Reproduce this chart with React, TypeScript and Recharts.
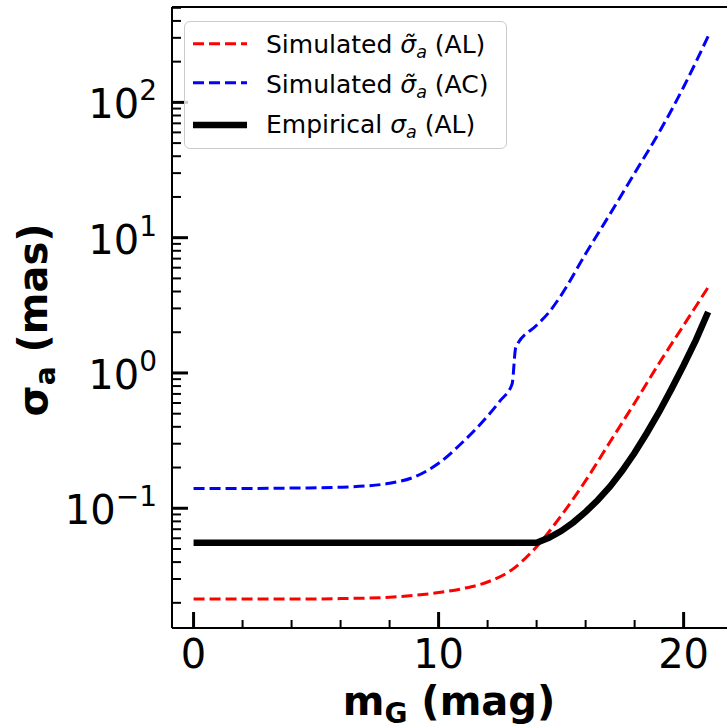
import React from 'react';
import { LineChart, Line, XAxis, YAxis, ReferenceLine } from 'recharts';

// ---- data ----
const magSimAL = [0, 2, 4, 6, 8, 9, 10, 11, 12, 13, 14, 15, 16, 17, 18, 19, 20, 21];
const simAL = [0.0213, 0.0213, 0.0213, 0.0215, 0.022, 0.0227, 0.0238, 0.0255, 0.0285, 0.0352, 0.052, 0.088, 0.16, 0.31, 0.6, 1.18, 2.25, 4.3];

const magSimAC = [0, 2, 4, 6, 7, 8, 9, 10, 11, 12, 12.5, 13, 13.15, 14, 14.5, 15, 16, 17, 18, 19, 20, 21];
const simAC = [0.14, 0.14, 0.141, 0.143, 0.146, 0.153, 0.17, 0.215, 0.31, 0.48, 0.62, 0.83, 1.55, 2.25, 2.8, 3.75, 7.6, 15, 30, 60, 130, 308];

const magEmp = [0, 2, 4, 6, 8, 10, 12, 14, 14.5, 15, 15.5, 16, 16.5, 17, 17.5, 18, 18.5, 19, 19.5, 20, 20.5, 21];
const empAL = [0.0555, 0.0555, 0.0555, 0.0555, 0.0555, 0.0555, 0.0555, 0.0555, 0.0604, 0.0678, 0.0787, 0.094, 0.115, 0.145, 0.19, 0.257, 0.36, 0.515, 0.76, 1.14, 1.75, 2.82];

const xMajorTicks = [0, 10, 20];
const xMinorTicks = [2, 4, 6, 8, 12, 14, 16, 18];
const yMajorTicks = [0.1, 1, 10, 100];
const yMajorExp = ['\u22121', '0', '1', '2'];
const yMinorTicks = [
  0.02, 0.03, 0.04, 0.05, 0.06, 0.07, 0.08, 0.09,
  0.2, 0.3, 0.4, 0.5, 0.6, 0.7, 0.8, 0.9,
  2, 3, 4, 5, 6, 7, 8, 9,
  20, 30, 40, 50, 60, 70, 80, 90,
  200, 300, 400, 500,
];

const X_DOMAIN: [number, number] = [-0.88, 21.77];
const Y_DOMAIN: [number, number] = [0.01303, 507];

const FONT = 'DejaVu Sans';

const toPoints = (xs: number[], ys: number[]) => xs.map((x, i) => ({ x, y: ys[i] }));

const series = [
  { key: 'simAL', data: toPoints(magSimAL, simAL), color: '#ff0000', width: 3, dash: '11 5', tilde: true, label: '(AL)', type: 'monotone' },
  { key: 'simAC', data: toPoints(magSimAC, simAC), color: '#0000ff', width: 3, dash: '11 5', tilde: true, label: '(AC)', type: 'monotone' },
  { key: 'empAL', data: toPoints(magEmp, empAL), color: '#000000', width: 6.5, dash: undefined, tilde: false, label: '(AL)', type: 'linear' },
];

const XTick = (props: any) => {
  const { x, y, payload } = props;
  const v = payload.value;
  const major = xMajorTicks.includes(v);
  return (
    <g>
      <line x1={x} x2={x} y1={y} y2={y - (major ? 16 : 8)} stroke="#000" strokeWidth={major ? 3 : 2} />
      {major && (
        <text x={x} y={y + 40} textAnchor="middle" fontSize={40} fontFamily={FONT} fill="#000">
          {v}
        </text>
      )}
    </g>
  );
};

const YTick = (props: any) => {
  const { x, y, payload } = props;
  const v = payload.value;
  const i = yMajorTicks.indexOf(v);
  return (
    <g>
      <line x1={x} x2={x + (i >= 0 ? 16 : 9)} y1={y} y2={y} stroke="#000" strokeWidth={i >= 0 ? 3 : 2} />
      {i >= 0 && (
        <text x={x - 15} y={y + 16} textAnchor="end" fontSize={40} fontFamily={FONT} fill="#000">
          <tspan>10</tspan>
          <tspan dy={-18} fontSize={28}>{yMajorExp[i]}</tspan>
        </text>
      )}
    </g>
  );
};

const XLabel = () => (
  <text x={449} y={715} textAnchor="middle" fontSize={40} fontWeight="bold" fontFamily={FONT} fill="#000">
    <tspan>m</tspan>
    <tspan fontSize={28} dy={8}>G</tspan>
    <tspan dy={-8}> (mag)</tspan>
  </text>
);

const YLabel = () => (
  <text x={47} y={320} transform="rotate(-90 47 320)" textAnchor="middle" fontSize={40} fontWeight="bold" fontFamily={FONT} fill="#000">
    <tspan>σ</tspan>
    <tspan fontSize={28} dy={8}>a</tspan>
    <tspan dy={-8}> (mas)</tspan>
  </text>
);

const Legend = () => {
  const rows = [
    { line: 21.7, base: 30.7 },
    { line: 60.7, base: 70.7 },
    { line: 103, base: 110.7 },
  ];
  return (
    <div
      style={{
        position: 'absolute',
        left: 184,
        top: 21,
        width: 323,
        height: 128,
        border: '1.5px solid #cccccc',
        borderRadius: 6,
        background: 'rgba(255,255,255,0.8)',
        boxSizing: 'border-box',
      }}
    >
      <svg width={320} height={125} style={{ position: 'absolute', left: 0, top: 0 }}>
        {series.map((s, i) => (
          <g key={s.key}>
            <line x1={8} x2={62} y1={rows[i].line} y2={rows[i].line} stroke={s.color} strokeWidth={s.width} strokeDasharray={s.dash} />
            <text x={81} y={rows[i].base} fontSize={25} fontFamily={FONT} fill="#000">
              <tspan>{s.tilde ? 'Simulated ' : 'Empirical '}</tspan>
              <tspan fontStyle="italic">{s.tilde ? 'σ\u0303' : 'σ'}</tspan>
              <tspan fontStyle="italic" fontSize={17.5} dy={5}>a</tspan>
              <tspan dy={-5}> {s.label}</tspan>
            </text>
          </g>
        ))}
      </svg>
    </div>
  );
};

export default function App() {
  return (
    <div style={{ position: 'absolute', left: 0, top: 0, width: 727, height: 725, overflow: 'hidden', background: '#fff' }}>
      <LineChart width={727} height={725} margin={{ top: 7, right: 0, bottom: 0, left: 0 }}>
        <XAxis
          type="number"
          dataKey="x"
          domain={X_DOMAIN}
          allowDataOverflow
          ticks={[...xMajorTicks, ...xMinorTicks]}
          interval={0}
          tick={<XTick />}
          tickLine={false}
          tickSize={0}
          tickMargin={0}
          height={97}
          axisLine={{ stroke: '#000', strokeWidth: 2 }}
          label={{ content: () => <XLabel /> }}
        />
        <YAxis
          type="number"
          scale="log"
          domain={Y_DOMAIN}
          allowDataOverflow
          ticks={[...yMajorTicks, ...yMinorTicks]}
          interval={0}
          tick={<YTick />}
          tickLine={false}
          tickSize={0}
          tickMargin={0}
          width={172}
          axisLine={{ stroke: '#000', strokeWidth: 2 }}
          label={{ content: () => <YLabel /> }}
        />
        <ReferenceLine y={Y_DOMAIN[1]} stroke="#000" strokeWidth={2} ifOverflow="extendDomain" />
        {series.map((s) => (
          <Line
            key={s.key}
            data={s.data}
            dataKey="y"
            type={s.type as any}
            stroke={s.color}
            strokeWidth={s.width}
            strokeDasharray={s.dash}
            dot={false}
            activeDot={false}
            isAnimationActive={false}
          />
        ))}
      </LineChart>
      <Legend />
    </div>
  );
}
